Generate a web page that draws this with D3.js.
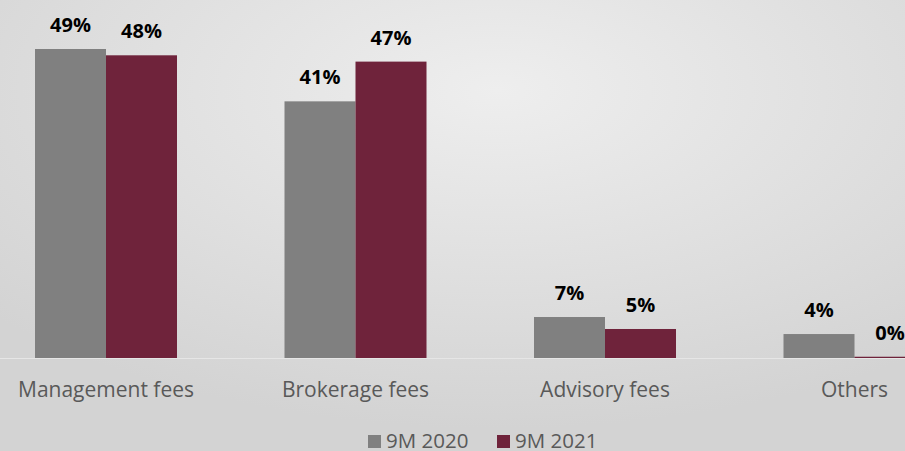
<!DOCTYPE html>
<html>
<head>
<meta charset="utf-8">
<script src="https://cdn.jsdelivr.net/npm/d3@7"></script>
<style>
  html, body { margin: 0; padding: 0; overflow: hidden; }
  svg { display: block; font-family: "Open Sans", sans-serif; }
</style>
</head>
<body>
<div id="chart"></div>
<script>
var categories = ["Management fees", "Brokerage fees", "Advisory fees", "Others"];
var seriesNames = ["9M 2020", "9M 2021"];
var values2020 = [49, 40.7, 6.5, 3.8];
var values2021 = [48, 47, 4.6, 0.2];
var seriesColors = ["#808080", "#6f233b"];

var width = 905, height = 451;

var svg = d3.select("#chart")
  .append("svg")
  .attr("width", width)
  .attr("height", height);

// background, soft radial grey
var defs = svg.append("defs");
var grad = defs.append("radialGradient")
  .attr("id", "bg")
  .attr("cx", "55%").attr("cy", "20%").attr("r", "75%");
grad.append("stop").attr("offset", "0%").attr("stop-color", "#eeeeee");
grad.append("stop").attr("offset", "100%").attr("stop-color", "#d3d3d3");

svg.append("rect")
  .attr("width", width)
  .attr("height", height)
  .attr("fill", "url(#bg)");

var x = d3.scalePoint()
  .domain(categories)
  .range([106, 854.5]);

var xs = d3.scaleBand()
  .domain(seriesNames)
  .range([-71, 71]);

var y = d3.scaleLinear()
  .domain([0, 49])
  .range([358, 49]);

var rows = categories.map(function(c, i) {
  return {cat: c, vals: [values2020[i], values2021[i]]};
});

// baseline
svg.append("line")
  .attr("x1", 0).attr("x2", width)
  .attr("y1", y(0) + 0.5).attr("y2", y(0) + 0.5)
  .attr("stroke", "#e6e6e6")
  .attr("stroke-width", 1);

var group = svg.selectAll(".grp")
  .data(rows)
  .enter().append("g")
  .attr("class", "grp")
  .attr("transform", function(d) { return "translate(" + x(d.cat) + ",0)"; });

var bar = group.selectAll(".bar")
  .data(function(d) {
    return d.vals.map(function(v, j) { return {name: seriesNames[j], v: v, j: j}; });
  })
  .enter();

bar.append("rect")
  .attr("x", function(d) { return xs(d.name); })
  .attr("width", xs.bandwidth())
  .attr("y", function(d) { return y(d.v); })
  .attr("height", function(d) { return y(0) - y(d.v); })
  .attr("fill", function(d) { return seriesColors[d.j]; });

bar.append("text")
  .attr("x", function(d) { return xs(d.name) + xs.bandwidth() / 2; })
  .attr("y", function(d) { return y(d.v) - 17; })
  .attr("text-anchor", "middle")
  .attr("font-size", 20)
  .attr("font-weight", "bold")
  .attr("fill", "#000")
  .text(function(d) { return Math.round(d.v) + "%"; });

// category labels
group.append("text")
  .attr("y", 397)
  .attr("text-anchor", "middle")
  .attr("font-size", 21)
  .attr("fill", "#595959")
  .text(function(d) { return d.cat; });

// legend
var legendX = [368, 497];
var legend = svg.selectAll(".leg")
  .data(seriesNames)
  .enter().append("g")
  .attr("class", "leg")
  .attr("transform", function(d, i) { return "translate(" + legendX[i] + ",433)"; });

legend.append("rect")
  .attr("y", 2)
  .attr("width", 13)
  .attr("height", 13)
  .attr("fill", function(d, i) { return seriesColors[i]; });

legend.append("text")
  .attr("x", 18)
  .attr("y", 15)
  .attr("font-size", 20.5)
  .attr("fill", "#595959")
  .text(function(d) { return d; });
</script>
</body>
</html>
